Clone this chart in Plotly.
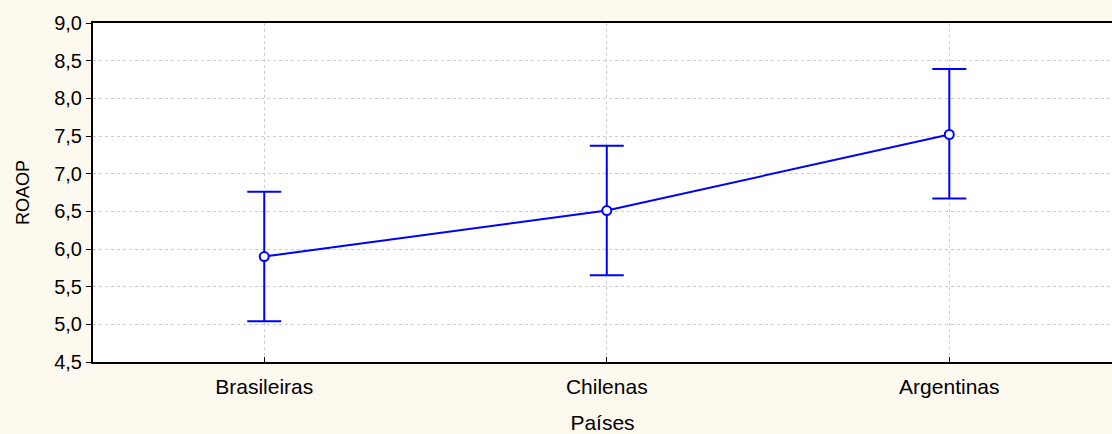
import plotly.graph_objects as go

categories = ["Brasileiras", "Chilenas", "Argentinas"]
means = [5.90, 6.51, 7.52]
upper = [6.76, 7.37, 8.39]
lower = [5.04, 5.65, 6.67]

err_plus = [u - m for u, m in zip(upper, means)]
err_minus = [m - l for m, l in zip(means, lower)]
xpos = list(range(len(categories)))

blue = "#0000FF"
fig = go.Figure()
fig.add_trace(go.Scatter(
    x=xpos, y=means, mode="lines+markers",
    line=dict(color=blue, width=2),
    marker=dict(symbol="circle", size=9, color="white", line=dict(color=blue, width=2)),
    error_y=dict(type="data", symmetric=False, array=err_plus, arrayminus=err_minus,
                 color=blue, thickness=2, width=17),
    showlegend=False,
))

fig.update_layout(
    width=1112, height=434,
    margin=dict(l=93, r=0, t=23, b=72),
    paper_bgcolor="#FDF9EE", plot_bgcolor="white",
    separators=",.",
    font=dict(family="Liberation Sans, Arial, sans-serif", size=20, color="black"),
)
fig.update_xaxes(
    range=[-0.5, 2.475], tickvals=xpos, ticktext=categories,
    tickfont=dict(size=21), ticklabelstandoff=5,
    showgrid=True, gridcolor="#CCCCCC", griddash="dot", gridwidth=1,
    showline=True, linecolor="black", linewidth=2, mirror=True,
    ticks="inside", ticklen=5, tickcolor="black",
    title=dict(text="Países", standoff=22, font=dict(size=21)), zeroline=False,
)
fig.update_yaxes(
    range=[4.5, 9.0], dtick=0.5, tickformat=".1f",
    tickfont=dict(size=20),
    showgrid=True, gridcolor="#CCCCCC", griddash="dot", gridwidth=1,
    showline=True, linecolor="black", linewidth=2,
    ticks="outside", ticklen=5, tickcolor="black",
    title=dict(text="ROAOP", standoff=20, font=dict(size=18)), zeroline=False,
)
fig.write_html("out.html", config={"displayModeBar": False},
               post_script="document.body.style.margin='0';")
